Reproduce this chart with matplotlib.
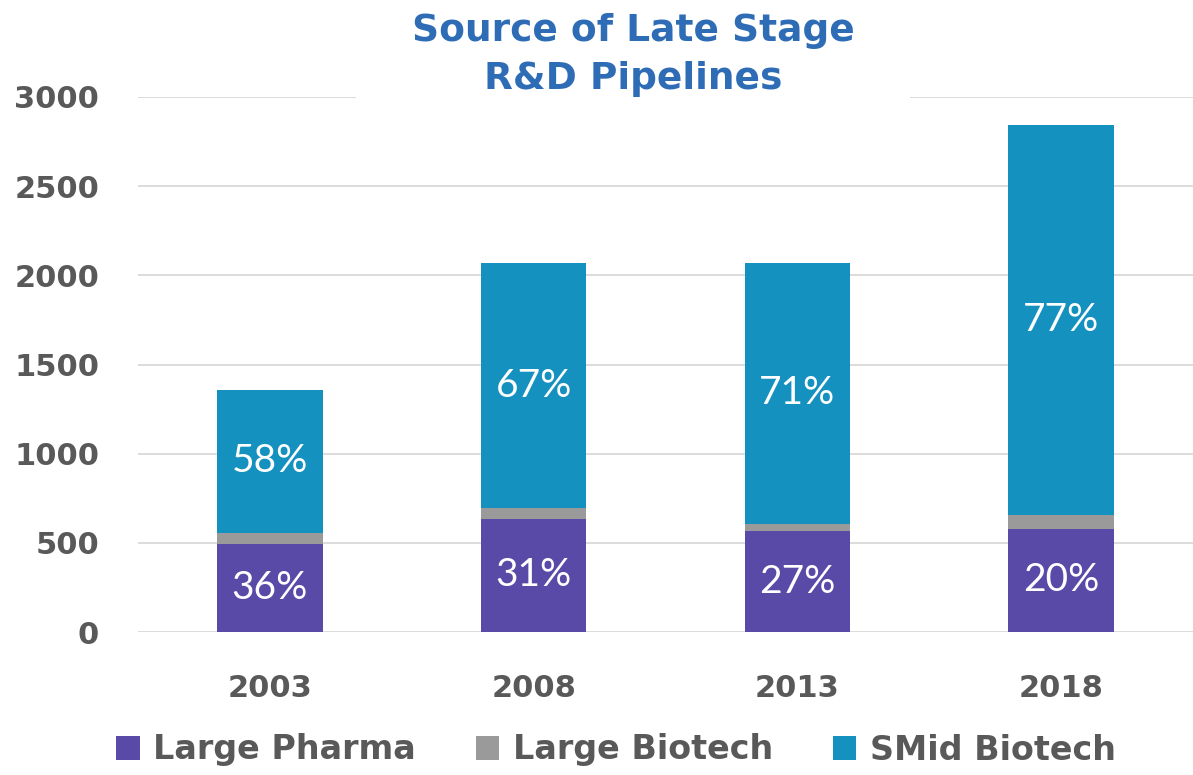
import numpy as np
import matplotlib.pyplot as plt

# datos
years = ['2003', '2008', '2013', '2018']
large_pharma = [491, 634, 566, 579]
large_biotech = [65, 63, 42, 77]
smid_biotech = [802, 1370, 1463, 2189]
pct_pharma = ['36%', '31%', '27%', '20%']
pct_smid = ['58%', '67%', '71%', '77%']

c_pharma = '#5a4aa8'
c_biotech = '#9a9a9a'
c_smid = '#1591bf'
gris = '#595959'

fig = plt.figure(figsize=(11.93, 7.75), dpi=100)
ax = fig.add_axes([138 / 1193, 1 - 632 / 775, 1 - 138 / 1193, (632 - 97) / 775])

x = np.arange(len(years))
w = 0.4
b1 = np.array(large_pharma)
b2 = b1 + np.array(large_biotech)
ax.bar(x, large_pharma, w, color=c_pharma, label='Large Pharma', zorder=3)
ax.bar(x, large_biotech, w, bottom=b1, color=c_biotech, label='Large Biotech', zorder=3)
ax.bar(x, smid_biotech, w, bottom=b2, color=c_smid, label='SMid Biotech', zorder=3)

# porcentajes dentro de las barras
for i in range(len(years)):
    ax.text(x[i], large_pharma[i] / 2, pct_pharma[i], ha='center', va='center',
            color='white', fontsize=28, family='Lato', fontweight='normal', zorder=4)
    ax.text(x[i], b2[i] + smid_biotech[i] / 2, pct_smid[i], ha='center', va='center',
            color='white', fontsize=28, family='Lato', fontweight='normal', zorder=4)

ax.set_xlim(-0.5, 3.5)
ax.set_ylim(0, 3000)
ax.set_yticks(np.arange(0, 3001, 500))
ax.set_xticks(x)
ax.set_xticklabels(years)
ax.grid(True, axis='y', color='#d9d9d9', linewidth=1.3, zorder=0)
for s in ax.spines.values():
    s.set_visible(False)
ax.tick_params(axis='both', length=0, labelcolor=gris)
ax.tick_params(axis='y', pad=28, labelsize=22)
ax.tick_params(axis='x', pad=30, labelsize=22)
for lab in ax.get_xticklabels() + ax.get_yticklabels():
    lab.set_fontweight('bold')

fig.text(633 / 1193, 1 - 55 / 775, 'Source of Late Stage\nR&D Pipelines', ha='center', va='center',
         fontsize=27, fontweight='bold', color='#2e6db6', linespacing=1.4,
         bbox=dict(facecolor='white', edgecolor='none', pad=40))

leg = fig.legend(loc='center', bbox_to_anchor=(616 / 1193, 1 - 750 / 775), ncol=3, frameon=False,
                 prop={'size': 24, 'weight': 'bold'}, handlelength=0.7, handleheight=0.7,
                 handletextpad=0.4, columnspacing=1.8)
for t in leg.get_texts():
    t.set_color(gris)

fig.savefig('out.png', dpi=100)
